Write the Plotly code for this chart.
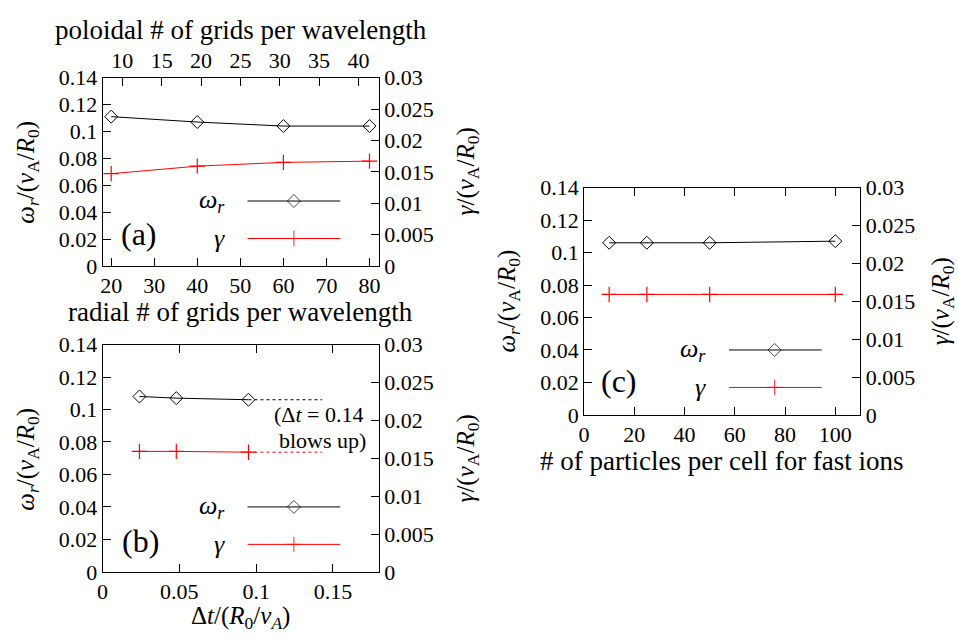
import plotly.graph_objects as go

W, H = 958, 641
FONT = "Liberation Serif"

# ---------------- data ----------------
# Panel (a): radial / poloidal grid resolution scan
radial_grids = [20, 40, 60, 80]
omega_a = [0.111, 0.107, 0.104, 0.104]
gamma_a = [0.0147, 0.0159, 0.0165, 0.0167]

# Panel (b): time step scan
dt = [0.024, 0.048, 0.095]
omega_b = [0.108, 0.107, 0.106]
gamma_b = [0.0159, 0.0159, 0.0158]
dt_blowup = 0.143

# Panel (c): particles per cell scan
ppc = [10, 25, 50, 100]
omega_c = [0.106, 0.106, 0.106, 0.107]
gamma_c = [0.0159, 0.0159, 0.0159, 0.0159]

# tick labels
omega_tickvals = [0, 0.02, 0.04, 0.06, 0.08, 0.1, 0.12, 0.14]
omega_ticktext = ["0", "0.02", "0.04", "0.06", "0.08", "0.1", "0.12", "0.14"]
gamma_tickvals = [0, 0.005, 0.01, 0.015, 0.02, 0.025, 0.03]
gamma_ticktext = ["0", "0.005", "0.01", "0.015", "0.02", "0.025", "0.03"]
radial_tickvals = [20, 30, 40, 50, 60, 70, 80]
poloidal_tickvals = [10, 15, 20, 25, 30, 35, 40]
dt_tickvals = [0, 0.05, 0.1, 0.15]
dt_ticktext = ["0", "0.05", "0.1", "0.15"]
ppc_tickvals = [0, 20, 40, 60, 80, 100]

# ---------------- layout helpers ----------------
def px(x):
    return x / W


def py(y):
    return 1 - y / H


PANEL = {
    "a": dict(l=97.3, r=375.7, t=68.3, b=264.3),
    "b": dict(l=97.3, r=375.7, t=346.0, b=582.7),
    "c": dict(l=582.3, r=860.7, t=182.7, b=419.3),
}


def xdom(p):
    return [px(PANEL[p]["l"]), px(PANEL[p]["r"])]


def ydom(p):
    return [py(PANEL[p]["b"]), py(PANEL[p]["t"])]


TICKFONT = dict(family=FONT, size=22, color="black")
base = dict(showline=True, linecolor="black", linewidth=1, ticks="inside",
            ticklen=8, tickwidth=1, tickcolor="black", showgrid=False,
            zeroline=False, tickfont=TICKFONT, fixedrange=True)

BLACK = "black"
RED = "#ff0000"
DIAMOND = dict(symbol="diamond-open", size=10, color=BLACK, line=dict(color=BLACK, width=1))
PLUS = dict(symbol="cross-thin-open", size=11, color=RED, line=dict(color=RED, width=1.2))

fig = go.Figure()

# Panel (a)
fig.add_trace(go.Scatter(x=radial_grids, y=omega_a, xaxis="x", yaxis="y", mode="lines+markers",
                         line=dict(color=BLACK, width=1), marker=DIAMOND, name="ω_r (a)", showlegend=False))
fig.add_trace(go.Scatter(x=radial_grids, y=gamma_a, xaxis="x", yaxis="y2", mode="lines+markers",
                         line=dict(color=RED, width=1), marker=PLUS, name="γ (a)", showlegend=False))
# empty trace so the top (poloidal) axis is drawn
fig.add_trace(go.Scatter(x=[None], y=[None], xaxis="x2", yaxis="y", mode="markers",
                         showlegend=False, hoverinfo="skip"))

# Panel (b)
fig.add_trace(go.Scatter(x=dt, y=omega_b, xaxis="x3", yaxis="y3", mode="lines+markers",
                         line=dict(color=BLACK, width=1), marker=DIAMOND, name="ω_r (b)", showlegend=False))
fig.add_trace(go.Scatter(x=[dt[-1], dt_blowup], y=[omega_b[-1], omega_b[-1]], xaxis="x3", yaxis="y3",
                         mode="lines", line=dict(color=BLACK, width=1, dash="3px,3px"), showlegend=False))
fig.add_trace(go.Scatter(x=dt, y=gamma_b, xaxis="x3", yaxis="y4", mode="lines+markers",
                         line=dict(color=RED, width=1), marker=PLUS, name="γ (b)", showlegend=False))
fig.add_trace(go.Scatter(x=[dt[-1], dt_blowup], y=[gamma_b[-1], gamma_b[-1]], xaxis="x3", yaxis="y4",
                         mode="lines", line=dict(color=RED, width=1, dash="3px,3px"), showlegend=False))

# Panel (c)
fig.add_trace(go.Scatter(x=ppc, y=omega_c, xaxis="x4", yaxis="y5", mode="lines+markers",
                         line=dict(color=BLACK, width=1), marker=DIAMOND, name="ω_r (c)", showlegend=False))
fig.add_trace(go.Scatter(x=ppc, y=gamma_c, xaxis="x4", yaxis="y6", mode="lines+markers",
                         line=dict(color=RED, width=1), marker=PLUS, name="γ (c)", showlegend=False))

# Legend keys (pixel overlay axes)
KEYS = {
    "a": dict(x1=243.3, xm=290.0, x2=336.7, yw=196.7, yg=235.7, tx=223.0),
    "b": dict(x1=243.3, xm=290.0, x2=336.7, yw=515.0, yg=554.0, tx=223.0),
    "c": dict(x1=728.3, xm=774.3, x2=821.7, yw=351.7, yg=390.7, tx=707.5),
}
for k in KEYS.values():
    fig.add_trace(go.Scatter(x=[k["x1"], k["xm"], k["x2"]], y=[k["yw"]] * 3, xaxis="x5", yaxis="y7",
                             mode="lines+markers", line=dict(color=BLACK, width=1),
                             marker=dict(DIAMOND, size=[0, 10, 0]), showlegend=False, hoverinfo="skip"))
    fig.add_trace(go.Scatter(x=[k["x1"], k["xm"], k["x2"]], y=[k["yg"]] * 3, xaxis="x5", yaxis="y7",
                             mode="lines+markers", line=dict(color=RED, width=1),
                             marker=dict(PLUS, size=[0, 11, 0]), showlegend=False, hoverinfo="skip"))

layout = dict(
    width=W, height=H, margin=dict(l=0, r=0, t=0, b=0),
    paper_bgcolor="white", plot_bgcolor="rgba(0,0,0,0)", showlegend=False,
    font=dict(family=FONT, color="black"),
    # panel (a)
    xaxis=dict(base, domain=xdom("a"), anchor="y", range=[18, 82.2], tickvals=radial_tickvals),
    xaxis2=dict(base, overlaying="x", side="top", anchor="y", range=[7.5, 42.6], tickvals=poloidal_tickvals),
    yaxis=dict(base, domain=ydom("a"), anchor="x", range=[0, 0.14], tickvals=omega_tickvals, ticktext=omega_ticktext),
    yaxis2=dict(base, overlaying="y", side="right", anchor="x", range=[0, 0.03], tickvals=gamma_tickvals, ticktext=gamma_ticktext),
    # panel (b)
    xaxis3=dict(base, domain=xdom("b"), anchor="y3", range=[0, 0.18], tickvals=dt_tickvals, ticktext=dt_ticktext, mirror="ticks"),
    yaxis3=dict(base, domain=ydom("b"), anchor="x3", range=[0, 0.14], tickvals=omega_tickvals, ticktext=omega_ticktext),
    yaxis4=dict(base, overlaying="y3", side="right", anchor="x3", range=[0, 0.03], tickvals=gamma_tickvals, ticktext=gamma_ticktext),
    # panel (c)
    xaxis4=dict(base, domain=xdom("c"), anchor="y5", range=[0, 110], tickvals=ppc_tickvals, mirror="ticks"),
    yaxis5=dict(base, domain=ydom("c"), anchor="x4", range=[0, 0.14], tickvals=omega_tickvals, ticktext=omega_ticktext),
    yaxis6=dict(base, overlaying="y5", side="right", anchor="x4", range=[0, 0.03], tickvals=gamma_tickvals, ticktext=gamma_ticktext),
    # pixel overlay for legend keys
    xaxis5=dict(domain=[0, 1], range=[0, W], visible=False, anchor="y7", fixedrange=True),
    yaxis7=dict(domain=[0, 1], range=[H, 0], visible=False, anchor="x5", fixedrange=True),
)
fig.update_layout(**layout)

XTITLE = 27
YTITLE = 25
OMEGA_T = "<i>ω<sub>r</sub></i>/(<i>v</i><sub>A</sub>/<i>R</i><sub>0</sub>)"
GAMMA_T = "<i>γ</i>/(<i>v</i><sub>A</sub>/<i>R</i><sub>0</sub>)"

ann = []


def text(t, x, y, size=XTITLE, xanchor="center", yanchor="middle", angle=0):
    ann.append(dict(text=t, x=px(x), y=py(y), xref="paper", yref="paper", showarrow=False,
                    xanchor=xanchor, yanchor=yanchor, textangle=angle,
                    font=dict(family=FONT, size=size, color="black")))


# axis titles
text("poloidal # of grids per wavelength", 236.5, 19)
text("radial # of grids per wavelength", 236.5, 312)
text("Δ<i>t</i>/(<i>R</i><sub>0</sub>/<i>v<sub>A</sub></i>)", 236.5, 630, size=25)
text("# of particles per cell for fast ions", 721, 467)
text(OMEGA_T, 22, 166.3, size=YTITLE, angle=-90)
text(GAMMA_T, 465, 166.3, size=YTITLE, angle=-90)
text(OMEGA_T, 22, 465, size=YTITLE, angle=-90)
text(GAMMA_T, 465, 465, size=YTITLE, angle=-90)
text(OMEGA_T, 506, 301, size=YTITLE, angle=-90)
text(GAMMA_T, 943, 301, size=YTITLE, angle=-90)

# panel labels
text("(a)", 134, 231, size=32)
text("(b)", 135, 550, size=32)
text("(c)", 618, 384, size=32)

# legend labels
for k in KEYS.values():
    text("<i>ω<sub>r</sub></i>", k["tx"], k["yw"], size=26, xanchor="right")
    text("<i>γ</i>", k["tx"], k["yg"], size=26, xanchor="right")

# blow-up note
text("(Δ<i>t</i> = 0.14", 363, 419, size=22, xanchor="right")
text("blows up)", 365, 446, size=22, xanchor="right")

fig.update_layout(annotations=ann)
fig.write_html(
    "out.html",
    post_script="document.body.style.margin='0';document.body.style.padding='0';"
                "document.documentElement.style.overflow='hidden';",
)
